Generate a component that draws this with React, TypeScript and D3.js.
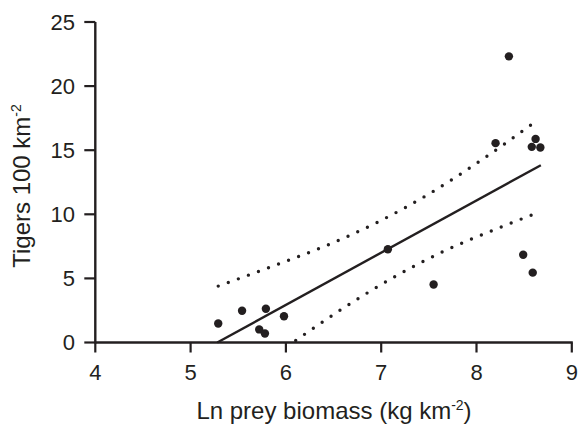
import React from "react";
import * as d3 from "d3";

const ptsX = [5.29, 5.54, 5.79, 5.72, 5.78, 5.98, 7.07, 7.55, 8.2, 8.34, 8.62, 8.58, 8.67, 8.49, 8.59];
const ptsY = [1.48, 2.48, 2.63, 1.02, 0.7, 2.05, 7.27, 4.53, 15.55, 22.32, 15.88, 15.26, 15.21, 6.85, 5.45];

const fitX = [5.28, 8.675];
const fitY = [0, 13.83];

const upperX = [5.29, 5.857, 6.421, 6.974, 7.502, 8.008, 8.306, 8.6];
const upperY = [4.4, 5.94, 7.55, 9.43, 11.59, 14.01, 15.55, 17.13];
const lowerX = [6.103, 6.602, 7.116, 7.649, 8.205, 8.656];
const lowerY = [0.16, 2.68, 5.02, 7.09, 8.85, 10.16];

const xTicks = [4, 5, 6, 7, 8, 9];
const yTicks = [0, 5, 10, 15, 20, 25];

const W = 581;
const H = 425;
const INK = "#231f20";
const FONT = "'Liberation Sans', Arial, sans-serif";

export default function App() {
  const x = d3.scaleLinear().domain([4, 9]).range([95.3, 571.8]);
  const y = d3.scaleLinear().domain([0, 25]).range([342.5, 22]);

  const line = d3
    .line<[number, number]>()
    .x((d) => x(d[0]))
    .y((d) => y(d[1]))
    .curve(d3.curveMonotoneX);

  const zip = (a: number[], b: number[]) => a.map((v, i) => [v, b[i]] as [number, number]);

  return (
    <svg width={W} height={H} style={{ position: "absolute", left: 0, top: 0, background: "#fff" }}>
      {/* axes */}
      <line x1={x(4)} x2={x(9) + 1} y1={y(0)} y2={y(0)} stroke={INK} strokeWidth={2.4} />
      <line x1={x(4)} x2={x(4)} y1={y(0) + 1} y2={y(25)} stroke={INK} strokeWidth={2.4} />
      {yTicks.map((t) => (
        <g key={"y" + t}>
          <line x1={x(4) - 11} x2={x(4)} y1={y(t)} y2={y(t)} stroke={INK} strokeWidth={2.2} />
          <text
            x={75}
            y={y(t)}
            dy="0.36em"
            textAnchor="end"
            fontFamily={FONT}
            fontSize={22}
            fill={INK}
          >
            {t}
          </text>
        </g>
      ))}
      {xTicks.map((t) => (
        <g key={"x" + t}>
          <line x1={x(t)} x2={x(t)} y1={y(0)} y2={y(0) + 10} stroke={INK} strokeWidth={2.2} />
          <text
            x={x(t)}
            y={380}
            textAnchor="middle"
            fontFamily={FONT}
            fontSize={22}
            fill={INK}
          >
            {t}
          </text>
        </g>
      ))}

      {/* confidence bands */}
      <path
        d={line(zip(upperX, upperY)) || ""}
        fill="none"
        stroke={INK}
        strokeWidth={3.4}
        strokeLinecap="round"
        strokeDasharray="0 10.7"
      />
      <path
        d={line(zip(lowerX, lowerY)) || ""}
        fill="none"
        stroke={INK}
        strokeWidth={3.4}
        strokeLinecap="round"
        strokeDasharray="0 10.7"
      />

      {/* regression line */}
      <path d={line(zip(fitX, fitY)) || ""} fill="none" stroke={INK} strokeWidth={2.4} />

      {/* points */}
      {ptsX.map((v, i) => (
        <circle key={i} cx={x(v)} cy={y(ptsY[i])} r={4.2} fill={INK} />
      ))}

      {/* axis titles */}
      <text
        transform={`translate(30,186) rotate(-90)`}
        textAnchor="middle"
        fontFamily={FONT}
        fontSize={24}
        fill={INK}
      >
        Tigers 100 km
        <tspan fontSize={14} dy={-9}>
          -2
        </tspan>
      </text>
      <text x={334} y={419} textAnchor="middle" fontFamily={FONT} fontSize={24} fill={INK}>
        Ln prey biomass (kg km
        <tspan fontSize={14} dy={-9}>
          -2
        </tspan>
        <tspan dy={9}>)</tspan>
      </text>
    </svg>
  );
}
